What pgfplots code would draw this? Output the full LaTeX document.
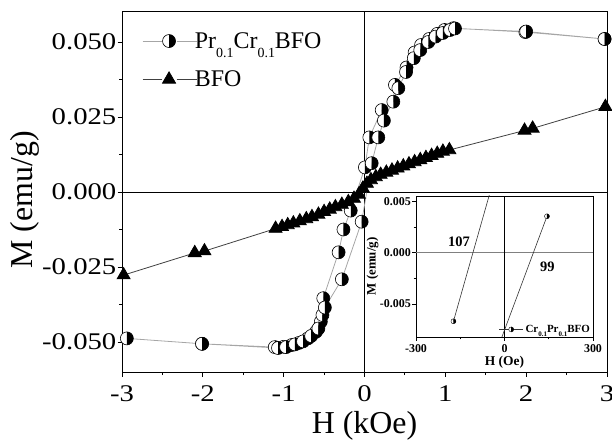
\documentclass[border=0pt]{standalone}
\usepackage{fontspec}
\setmainfont{Liberation Serif}
\newfontfamily\tickfont[FakeStretch=1.2]{Liberation Serif}
\usepackage{pgfplots}
\pgfplotsset{compat=1.18}
\usetikzlibrary{plotmarks}
\newcommand{\sub}[2]{\raisebox{-0.4em}{\fontsize{#1}{#1}\selectfont #2}}
\begin{document}
\begin{tikzpicture}
\useasboundingbox (0,0) rectangle (612bp,440bp);
\begin{axis}[
  at={(122bp,68bp)}, anchor=south west,
  scale only axis, width=485bp, height=360bp,
  xmin=-3, xmax=3, ymin=-0.06, ymax=0.06,
  xtick={-3,-2,-1,0,1,2,3},
  ytick={-0.05,-0.025,0,0.025,0.05},
  minor x tick num=1, minor y tick num=1,
  tick pos=left, tick align=outside,
  major tick length=4.5bp, minor tick length=3bp,
  tick style={black, line width=0.9bp},
  axis line style={line width=1bp},
  scaled y ticks=false,
  /pgf/number format/assume math mode=true,
  yticklabel style={/pgf/number format/.cd, fixed, fixed zerofill, precision=3},
  ticklabel style={font=\tickfont\fontsize{24}{24}\selectfont, inner sep=1bp},
  xticklabel style={yshift=-8bp},
  xlabel={H (kOe)}, ylabel={M (emu/g)},
  xlabel style={font=\fontsize{32}{32}\selectfont, at={(axis description cs:0.5,0)}, anchor=north, yshift=-36bp},
  ylabel style={font=\fontsize{32}{32}\selectfont, at={(axis description cs:-0.2,0.478)}, anchor=center},
  legend style={at={(axis description cs:0.037,0.955)}, anchor=north west, draw=none, fill=none,
    font=\fontsize{24}{24}\selectfont, row sep=17bp, inner sep=2bp},
  legend cell align=left,
  legend image code/.code={%
    \draw[#1] (0bp,0bp) -- (19bp,0bp);
    \draw[#1] (34bp,0bp) -- (54bp,0bp);
    \draw[#1] plot coordinates {(26.5bp,0bp)};},
]
\draw[black, line width=0.9bp] (axis cs:-3,0) -- (axis cs:3,0);
\draw[black, line width=0.9bp] (axis cs:0,-0.06) -- (axis cs:0,0.06);
\addplot[gray!70, line width=0.8bp, mark=halfcircle*, mark size=6.5bp,
  mark options={solid, rotate=90, draw=black, fill=white, mark color=black, line width=0.6bp}]
  coordinates {
  (2.97,0.0510) (1.99,0.0533) (1.10,0.0546) (0.99,0.0540) (0.90,0.0527) (0.80,0.0510)
  (0.70,0.0490) (0.62,0.0465) (0.52,0.0415) (0.377,0.0357) (0.357,0.0301) (0.213,0.0273)
  (0.06,0.0182) (0.005,0.0082) (-0.17,-0.0062) (-0.26,-0.0125) (-0.32,-0.0201)
  (-0.51,-0.0354) (-0.54,-0.0432) (-0.60,-0.0466) (-0.70,-0.0488) (-0.81,-0.0503)
  (-0.90,-0.0510) (-1.00,-0.0516) (-1.11,-0.0517) (-2.01,-0.0506) (-2.94,-0.0488)
  (-2.01,-0.0506) (-1.07,-0.0520) (-0.97,-0.0517) (-0.86,-0.0508) (-0.76,-0.0498)
  (-0.66,-0.0480) (-0.57,-0.0455) (-0.52,-0.0410) (-0.49,-0.0385) (-0.28,-0.0291)
  (-0.035,-0.0099) (0.089,0.0096) (0.171,0.0182) (0.24,0.0238) (0.419,0.0346)
  (0.514,0.0400) (0.61,0.0446) (0.69,0.0473) (0.79,0.0500) (0.88,0.0518) (0.97,0.0530)
  (1.06,0.0540) (1.12,0.0545) (2.00,0.0535) (2.97,0.0510)
  };
\addlegendentry{\hspace{-4bp}Pr\sub{14}{0.1}Cr\sub{14}{0.1}BFO}
\addplot[black!75, line width=0.8bp, mark=triangle*, mark size=7.5bp,
  mark options={solid, black}]
  coordinates {
  (-2.98,-0.0277) (-2.10,-0.0203) (-1.98,-0.0197) (-1.10,-0.0122) (-1.02,-0.0116)
  (-0.95,-0.0110) (-0.88,-0.0104) (-0.80,-0.0097) (-0.72,-0.0090) (-0.65,-0.0083)
  (-0.57,-0.0075) (-0.50,-0.0066) (-0.43,-0.0058) (-0.36,-0.0050) (-0.28,-0.0042)
  (-0.20,-0.0033) (-0.13,-0.0022) (-0.07,-0.0008) (-0.02,0.0012) (0.03,0.0028)
  (0.08,0.0040) (0.14,0.0050) (0.20,0.0058) (0.27,0.0065) (0.34,0.0072) (0.41,0.0079)
  (0.48,0.0086) (0.55,0.0093) (0.62,0.0100) (0.69,0.0107) (0.76,0.0114) (0.83,0.0121)
  (0.90,0.0128) (0.97,0.0135) (1.05,0.0140) (1.98,0.0205) (2.08,0.0212) (2.98,0.0284)
  };
\addlegendentry{\hspace{-4bp}BFO}
\end{axis}
\begin{axis}[
  at={(416bp,103bp)}, anchor=south west,
  scale only axis, width=177bp, height=141bp,
  axis background/.style={fill=white},
  xmin=-300, xmax=300, ymin=-0.0082, ymax=0.0055,
  xtick={-300,0,300}, ytick={-0.005,0,0.005},
  minor x tick num=1, minor y tick num=1,
  tick pos=left, tick align=outside,
  major tick length=4bp, minor tick length=2.5bp,
  tick style={black, line width=0.6bp},
  axis line style={line width=0.7bp},
  scaled y ticks=false,
  /pgf/number format/assume math mode=true,
  yticklabel style={inner sep=1bp, /pgf/number format/.cd, fixed, fixed zerofill, precision=3},
  ticklabel style={font=\bfseries\fontsize{12}{12}\selectfont},
  xlabel={\textbf{H (Oe)}}, ylabel={\textbf{M (emu/g)}},
  xlabel style={font=\fontsize{13.5}{13.5}\selectfont, yshift=3bp},
  ylabel style={font=\fontsize{13}{13}\selectfont, at={(axis description cs:-0.245,0.5)}, anchor=center},
  legend style={at={(axis description cs:1,0)}, anchor=south east, draw=none, fill=none,
    font=\bfseries\fontsize{11}{11}\selectfont, inner sep=1bp},
  legend image code/.code={\draw[mark repeat=2,mark phase=2,#1] plot coordinates {(0bp,0bp) (12bp,0bp) (24bp,0bp)};},
]
\draw[gray, line width=0.6bp] (axis cs:-300,0) -- (axis cs:300,0);
\draw[black, line width=0.6bp] (axis cs:0,-0.0082) -- (axis cs:0,0.0055);
\addplot[black!80, line width=0.6bp, mark=halfcircle*, mark size=2.5bp,
  mark options={solid, rotate=90, draw=black, fill=white, mark color=black, line width=0.4bp}]
  coordinates {(-173,-0.00667) (6,0.0114)};
\addlegendentry{Cr\sub{7}{0.1}Pr\sub{7}{0.1}BFO}
\addplot[black!80, line width=0.6bp, mark=halfcircle*, mark size=2.5bp,
  mark options={solid, rotate=90, draw=black, fill=white, mark color=black, line width=0.4bp},
  forget plot]
  coordinates {(-40,-0.0106) (144,0.00353)};
\node[font=\bfseries\fontsize{14.5}{14.5}\selectfont] at (axis cs:-154,0.00108) {107};
\node[font=\bfseries\fontsize{14.5}{14.5}\selectfont] at (axis cs:145,-0.00137) {99};
\end{axis}
\end{tikzpicture}
\end{document}
